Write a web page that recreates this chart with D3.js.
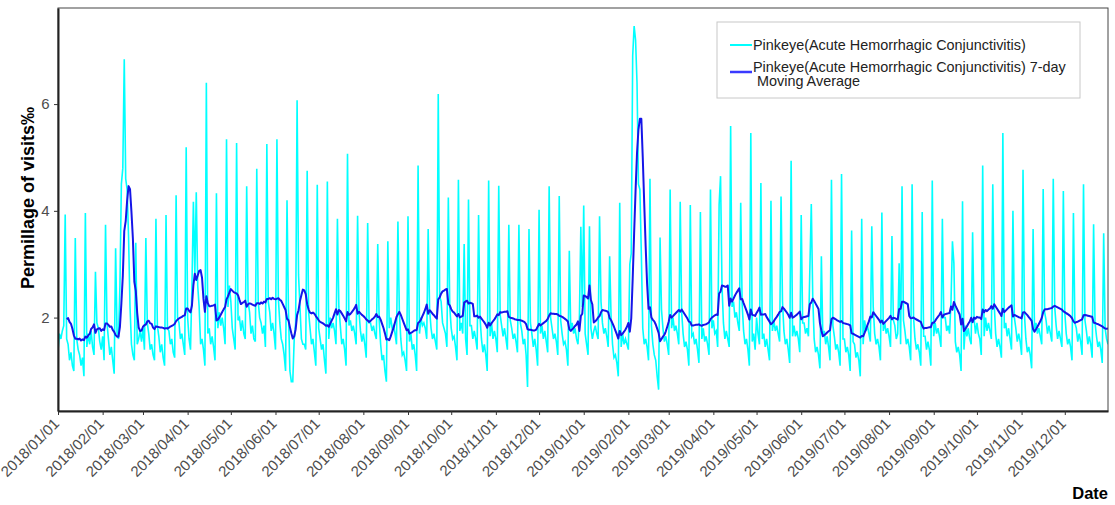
<!DOCTYPE html>
<html>
<head>
    <script src="https://d3js.org/d3.v7.min.js"></script>
    <style>
        body { margin: 0; background-color: white; }
        text { font-family: "Liberation Sans", Arial, sans-serif; }
        .tick-label { font-size: 15px; fill: #4d4d4d; }
        .axis-title { font-weight: bold; fill: black; }
        .legend-text { font-size: 14.4px; fill: #222; }
    </style>
</head>
<body>
<script>
    // daily permillage, 2018/01/01 (Monday) onwards, one row per week Mon..Sun
    const startDay = '2018-01-01';
    const dailyValues = [
        1.38,1.7,1.6,1.75,1.85,3.93,1.6,
        1.5,1.2,1.35,1.1,1.0,3.49,1.6,
        1.4,1.3,1.1,1.25,0.9,3.96,1.45,
        1.7,1.5,1.75,1.45,1.3,2.86,1.9,
        1.8,1.55,1.4,1.65,1.2,3.74,1.9,
        1.6,1.3,1.45,1.2,0.95,3.3,1.7,
        1.6,2.6,4.5,4.8,6.84,4.6,4.4,
        3.5,2.2,1.5,1.3,1.2,3.4,1.5,
        1.6,1.75,1.55,1.8,1.4,3.49,1.9,
        1.7,1.4,1.5,1.3,1.2,3.85,1.85,
        1.65,1.35,1.5,1.25,1.1,3.92,1.8,
        1.75,1.5,1.6,1.35,1.25,4.29,2.0,
        1.9,1.6,1.7,1.5,1.3,5.19,2.0,
        1.6,1.4,2.6,4.17,2.8,4.35,2.6,
        2.2,1.5,1.6,1.4,1.1,6.4,1.7,
        1.8,1.5,1.65,1.45,1.2,4.33,1.8,
        2.1,1.85,2.0,1.8,1.5,5.34,2.2,
        2.6,2.3,1.8,1.6,1.4,5.27,1.95,
        2.0,1.75,1.95,1.7,1.6,4.46,2.3,
        2.1,1.7,1.85,1.6,1.55,4.79,2.3,
        2.0,1.9,1.7,1.85,1.45,5.25,2.3,
        2.1,1.75,1.9,1.7,1.4,5.34,2.35,
        1.9,1.6,1.5,1.3,1.0,4.2,2.15,
        1.0,0.8,0.8,1.6,1.9,6.07,2.8,
        2.2,1.6,1.5,1.5,1.4,4.75,2.1,
        1.8,1.5,1.6,1.35,1.1,4.49,1.8,
        1.6,1.4,1.5,1.2,0.95,4.55,1.6,
        2.0,1.8,1.9,1.75,1.5,3.85,2.2,
        1.85,1.5,1.6,1.4,1.1,5.07,1.85,
        1.95,1.75,1.85,1.7,1.5,3.91,2.1,
        1.75,1.55,1.7,1.5,1.25,3.77,1.9,
        1.9,1.75,1.85,1.7,1.6,3.38,1.95,
        1.5,1.2,1.3,1.0,0.8,3.43,1.8,
        2.0,1.8,1.85,1.7,1.5,3.8,2.1,
        1.6,1.3,1.35,1.2,1.0,3.9,1.55,
        1.7,1.4,1.5,1.3,1.0,4.85,1.7,
        2.0,1.85,1.9,1.8,1.6,3.66,2.15,
        1.8,1.6,1.7,1.55,1.4,6.19,2.4,
        2.3,1.9,1.8,1.7,1.45,4.25,2.2,
        1.8,1.6,1.65,1.45,1.2,4.58,1.75,
        1.9,1.7,3.38,1.6,1.3,4.21,1.85,
        1.85,1.6,1.75,1.6,1.4,3.92,2.0,
        1.6,1.35,1.5,1.3,1.0,4.57,1.65,
        1.9,1.6,1.75,1.6,1.35,4.47,2.05,
        1.85,1.65,1.8,1.6,1.4,3.74,1.95,
        1.8,1.6,1.7,1.55,1.35,3.74,1.9,
        1.75,1.5,1.6,1.3,0.7,3.66,1.9,
        1.7,1.45,1.6,1.4,1.1,4.02,1.7,
        1.85,1.6,1.75,1.55,1.35,4.46,2.0,
        1.8,1.6,1.7,1.55,1.3,4.28,1.95,
        1.7,1.5,1.55,1.4,1.1,3.25,1.75,
        1.9,1.7,1.8,1.6,1.5,2.0,3.7,
        2.2,4.1,1.7,1.5,1.3,3.71,1.8,
        1.6,1.75,1.85,1.7,1.6,3.9,2.3,
        1.9,1.7,1.8,1.65,1.45,3.15,2.0,
        1.5,1.25,1.3,1.15,0.9,4.15,1.45,
        1.7,1.5,1.6,1.5,1.4,3.0,3.2,
        6.9,7.46,7.2,6.4,4.5,4.4,3.2,
        1.8,1.5,1.6,1.45,1.2,4.6,1.85,
        1.5,1.3,1.2,0.9,0.65,3.5,2.15,
        1.8,1.55,1.65,1.5,1.3,4.4,1.8,
        2.0,1.75,1.85,1.7,1.5,4.17,2.1,
        1.7,1.45,1.55,1.4,1.1,4.11,1.65,
        1.7,1.5,1.6,1.4,1.15,3.98,1.6,
        1.8,1.55,1.65,1.5,1.3,4.4,1.8,
        1.95,1.7,1.75,1.45,4.11,4.65,2.6,
        1.9,1.6,1.75,1.6,1.45,5.59,2.2,
        2.3,2.0,2.1,1.9,1.75,4.15,2.25,
        1.75,1.5,1.6,1.4,1.1,5.46,1.55,
        1.7,1.4,2.0,1.7,1.5,4.52,1.6,
        1.7,1.45,1.6,1.4,1.2,4.19,1.75,
        1.95,1.75,1.85,1.7,1.55,4.27,2.3,
        1.75,1.5,1.6,1.4,1.15,4.94,1.65,
        1.85,1.65,1.75,1.6,1.35,3.92,1.9,
        1.9,1.7,1.8,1.65,2.9,4.13,2.4,
        1.6,1.35,1.45,1.3,1.05,3.15,1.65,
        1.75,1.5,1.65,1.45,1.2,4.58,1.85,
        1.65,1.4,1.5,1.35,1.1,4.69,1.6,
        1.6,1.35,1.45,1.3,1.0,3.63,1.55,
        1.5,1.25,1.35,1.2,0.9,3.85,1.5,
        1.95,1.75,1.85,1.7,1.55,3.71,2.2,
        1.7,1.5,1.6,1.45,1.2,3.97,1.75,
        1.9,1.7,1.8,1.65,1.45,3.53,1.95,
        1.85,1.6,1.7,3.02,1.5,4.46,1.95,
        1.75,1.5,1.6,1.45,1.2,4.5,2.0,
        1.6,1.4,1.5,1.35,1.1,3.98,1.65,
        1.65,1.4,1.55,1.4,1.1,4.57,1.65,
        1.9,1.7,1.8,1.65,1.45,3.85,2.0,
        2.0,1.75,1.85,1.7,2.3,3.43,3.02,
        1.55,1.35,1.45,1.3,1.0,4.18,1.4,
        1.85,1.65,1.8,1.6,1.5,3.6,2.0,
        1.7,1.9,1.7,1.6,1.3,4.85,1.65,
        2.0,1.75,1.9,1.75,1.6,4.5,2.25,
        1.7,1.45,1.6,1.45,1.25,5.46,1.8,
        1.9,1.65,1.8,1.6,1.4,4.0,2.0,
        1.8,1.55,1.7,1.55,1.3,4.77,2.05,
        1.6,1.35,1.45,1.3,1.05,3.66,1.75,
        1.9,1.7,1.8,1.65,1.5,4.41,2.1,
        1.95,1.7,1.85,1.7,1.55,4.6,2.2,
        1.85,1.6,1.75,1.6,1.45,4.37,2.1,
        1.7,1.5,1.6,1.45,1.2,3.96,1.9,
        1.8,1.55,1.7,1.55,1.3,4.5,1.95,
        1.75,1.5,1.65,1.5,1.25,3.75,1.9,
        1.65,1.45,1.55,1.4,1.15,3.58,1.8,
        1.6,1.5
    ];
    const seriesNames = [
        'Pinkeye(Acute Hemorrhagic Conjunctivitis)',
        'Pinkeye(Acute Hemorrhagic Conjunctivitis) 7-day'
    ];
    const yTicks = [2, 4, 6];
    const windowSize = 7;

    const width = 1115, height = 505;
    const margin = { top: 8, right: 7, bottom: 94, left: 58 };

    const svg = d3.select('body').append('svg')
        .attr('width', width)
        .attr('height', height);

    const t0 = new Date(startDay + 'T00:00:00Z');
    const data = dailyValues.map((v, i) => ({ date: d3.utcDay.offset(t0, i), value: v }));

    // trailing 7-day average
    const avg = [];
    for (let i = windowSize - 1; i < data.length; i++) {
        avg.push({ date: data[i].date, value: d3.mean(data.slice(i - windowSize + 1, i + 1), d => d.value) });
    }

    const x = d3.scaleUtc()
        .domain([t0, data[data.length - 1].date])
        .range([margin.left, width - margin.right]);

    const y = d3.scaleLinear()
        .domain([0.25, 7.8])
        .range([height - margin.bottom, margin.top]);

    svg.append('clipPath').attr('id', 'clip')
        .append('rect')
        .attr('x', margin.left).attr('y', margin.top)
        .attr('width', width - margin.left - margin.right)
        .attr('height', height - margin.top - margin.bottom);

    const line = d3.line()
        .x(d => x(d.date))
        .y(d => y(d.value));

    const plot = svg.append('g').attr('clip-path', 'url(#clip)');

    plot.append('path')
        .datum(data)
        .attr('fill', 'none')
        .attr('stroke', '#00ffff')
        .attr('stroke-width', 1.6)
        .attr('d', line);

    plot.append('path')
        .datum(avg)
        .attr('fill', 'none')
        .attr('stroke', '#1515e8')
        .attr('stroke-width', 2)
        .attr('stroke-linejoin', 'round')
        .attr('d', line);

    // panel border
    svg.append('rect')
        .attr('x', margin.left).attr('y', margin.top)
        .attr('width', width - margin.left - margin.right)
        .attr('height', height - margin.top - margin.bottom)
        .attr('fill', 'none')
        .attr('stroke', '#444')
        .attr('stroke-width', 1);

    // x axis
    const xAxis = svg.append('g')
        .attr('transform', `translate(0,${height - margin.bottom})`)
        .call(d3.axisBottom(x)
            .tickValues(d3.utcMonth.range(t0, new Date('2020-01-01T00:00:00Z')))
            .tickFormat(d3.utcFormat('%Y/%m/%d'))
            .tickSize(4)
            .tickSizeOuter(0));
    xAxis.select('.domain').attr('stroke', '#222').attr('stroke-width', 2);
    xAxis.selectAll('.tick line').attr('stroke', '#333');
    xAxis.selectAll('.tick text')
        .attr('class', 'tick-label')
        .attr('text-anchor', 'end')
        .attr('x', 0).attr('y', 0)
        .attr('dy', '0.35em')
        .attr('transform', 'translate(-2,10) rotate(-45)');

    // y axis
    const yAxis = svg.append('g')
        .attr('transform', `translate(${margin.left},0)`)
        .call(d3.axisLeft(y).tickValues(yTicks).tickSize(4).tickSizeOuter(0));
    yAxis.select('.domain').attr('stroke', '#222').attr('stroke-width', 2);
    yAxis.selectAll('.tick line').attr('stroke', '#333');
    yAxis.selectAll('.tick text').attr('class', 'tick-label').attr('dx', '-0.1em');

    svg.append('text')
        .attr('class', 'axis-title')
        .style('font-size', '18px')
        .attr('transform', 'translate(34,198) rotate(-90)')
        .attr('text-anchor', 'middle')
        .text('Permillage of visits\u2030');

    svg.append('text')
        .attr('class', 'axis-title')
        .style('font-size', '16.5px')
        .attr('x', 1108).attr('y', 499)
        .attr('text-anchor', 'end')
        .text('Date');

    // legend
    const legend = svg.append('g').attr('transform', 'translate(717,22)');
    legend.append('rect')
        .attr('width', 363).attr('height', 76)
        .attr('fill', 'white')
        .attr('stroke', '#c8c8c8');
    legend.append('line')
        .attr('x1', 13).attr('x2', 35).attr('y1', 23).attr('y2', 23)
        .attr('stroke', '#00ffff').attr('stroke-width', 2);
    legend.append('text')
        .attr('class', 'legend-text')
        .attr('x', 36).attr('y', 28)
        .text(seriesNames[0]);
    legend.append('line')
        .attr('x1', 13).attr('x2', 35).attr('y1', 50).attr('y2', 50)
        .attr('stroke', '#3a3aff').attr('stroke-width', 2.5);
    legend.append('text')
        .attr('class', 'legend-text')
        .attr('x', 36).attr('y', 50)
        .text(seriesNames[1]);
    legend.append('text')
        .attr('class', 'legend-text')
        .attr('x', 40).attr('y', 64)
        .text('Moving Average');
</script>
</body>
</html>
